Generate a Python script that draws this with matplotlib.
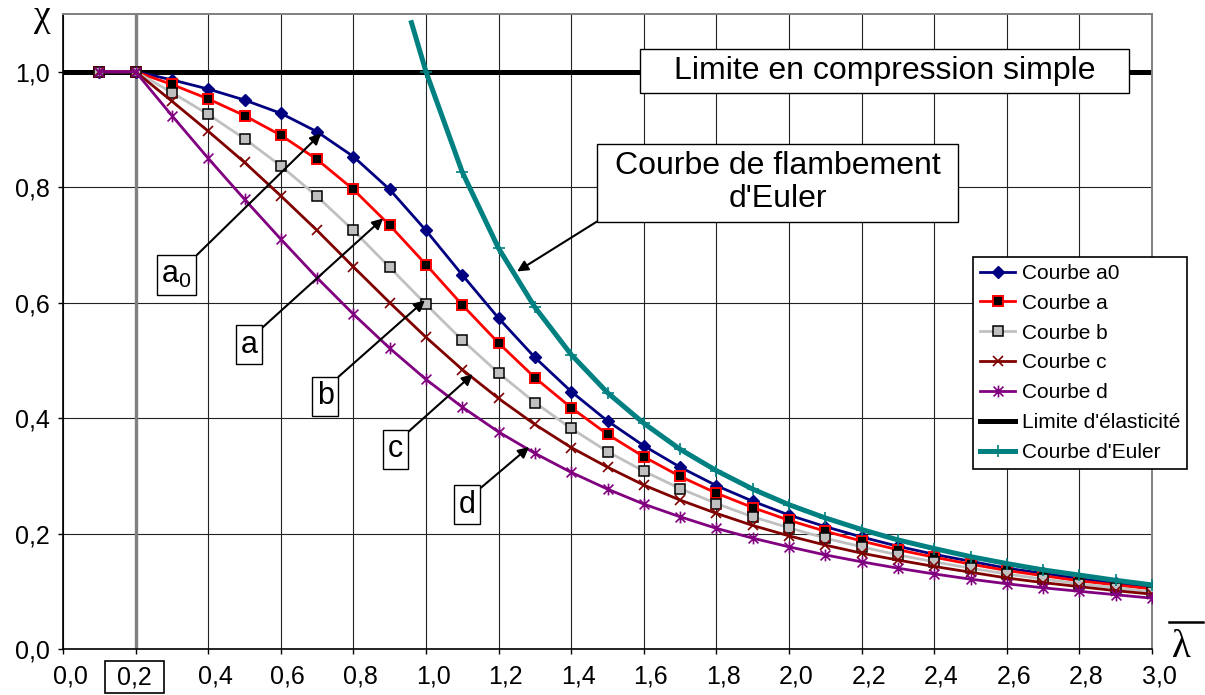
import matplotlib

matplotlib.use("Agg")

import matplotlib.pyplot as plt
from matplotlib.path import Path
from matplotlib.patches import Rectangle
from matplotlib.lines import Line2D
from matplotlib.transforms import ScaledTranslation

plt.rcParams["font.family"] = ["Liberation Sans", "DejaVu Sans"]
plt.rcParams["mathtext.default"] = "regular"

# reduced slenderness and reduction factors for the five buckling curves
lam = [0.1, 0.2, 0.3, 0.4, 0.5, 0.6, 0.7, 0.8, 0.9, 1.0,
       1.1, 1.2, 1.3, 1.4, 1.5, 1.6, 1.7, 1.8, 1.9, 2.0,
       2.1, 2.2, 2.3, 2.4, 2.5, 2.6, 2.7, 2.8, 2.9, 3.0]
chi_a0 = [1.0, 1.0, 0.986, 0.970, 0.951, 0.928, 0.896, 0.853, 0.796, 0.725,
          0.648, 0.573, 0.505, 0.446, 0.395, 0.352, 0.315, 0.283, 0.256, 0.232,
          0.212, 0.194, 0.178, 0.164, 0.152, 0.140, 0.131, 0.122, 0.114, 0.106]
chi_a = [1.0, 1.0, 0.978, 0.953, 0.924, 0.890, 0.848, 0.796, 0.734, 0.666,
         0.596, 0.530, 0.470, 0.418, 0.372, 0.333, 0.299, 0.270, 0.245, 0.223,
         0.204, 0.187, 0.172, 0.159, 0.147, 0.136, 0.127, 0.118, 0.111, 0.104]
chi_b = [1.0, 1.0, 0.964, 0.926, 0.884, 0.837, 0.784, 0.725, 0.661, 0.597,
         0.535, 0.478, 0.427, 0.382, 0.342, 0.308, 0.278, 0.252, 0.229, 0.210,
         0.192, 0.177, 0.163, 0.151, 0.140, 0.130, 0.121, 0.113, 0.106, 0.099]
chi_c = [1.0, 1.0, 0.949, 0.897, 0.843, 0.785, 0.725, 0.662, 0.600, 0.540,
         0.484, 0.434, 0.389, 0.349, 0.315, 0.284, 0.258, 0.235, 0.214, 0.196,
         0.180, 0.166, 0.154, 0.143, 0.133, 0.123, 0.115, 0.108, 0.101, 0.095]
chi_d = [1.0, 1.0, 0.924, 0.850, 0.779, 0.710, 0.643, 0.580, 0.521, 0.467,
         0.419, 0.376, 0.339, 0.306, 0.277, 0.251, 0.229, 0.209, 0.192, 0.177,
         0.163, 0.151, 0.140, 0.130, 0.121, 0.113, 0.106, 0.100, 0.094, 0.088]

# elastic (Euler) critical curve
lam_euler = [0.96, 1.0, 1.1, 1.2, 1.3, 1.4, 1.5, 1.6, 1.7, 1.8, 1.9,
             2.0, 2.1, 2.2, 2.3, 2.4, 2.5, 2.6, 2.7, 2.8, 2.9, 3.0]
chi_euler = [1.085, 1.0, 0.826, 0.694, 0.592, 0.510, 0.444, 0.391, 0.346,
             0.309, 0.277, 0.250, 0.227, 0.207, 0.189, 0.174, 0.160, 0.148,
             0.137, 0.128, 0.119, 0.111]

# squash load limit
lam_limit = [0.0, 3.0]
chi_limit = [1.0, 1.0]

lam_plateau = 0.2

x_ticks = [0.0, 0.2, 0.4, 0.6, 0.8, 1.0, 1.2, 1.4, 1.6, 1.8,
           2.0, 2.2, 2.4, 2.6, 2.8, 3.0]
y_ticks = [0.0, 0.2, 0.4, 0.6, 0.8, 1.0]

W, H = 1205, 695


def fx(px):
    return px / W


def fy(py):
    return 1 - py / H


# Excel-style star: an x with a vertical bar
star = Path([(-1, -1), (1, 1), (-1, 1), (1, -1), (0, -1.2), (0, 1.2)],
            [Path.MOVETO, Path.LINETO, Path.MOVETO, Path.LINETO,
             Path.MOVETO, Path.LINETO])

fig = plt.figure(figsize=(W / 100, H / 100), dpi=100)
ax = fig.add_axes([fx(63), fy(649), fx(1152) - fx(63), (649 - 14) / H])

ax.axvline(lam_plateau, color="#808080", lw=2.4, zorder=1.5)
ax.plot(lam_limit, chi_limit, color="black", lw=3.6, zorder=2,
        label="Limite d'élasticité")

ax.plot(lam, chi_a0, color="#000080", lw=2, marker="D", ms=6.5,
        mfc="#000080", mec="#000080", zorder=3, label="Courbe a0")
ax.plot(lam, chi_a, color="#FF0000", lw=2, marker="s", ms=7.2,
        mfc="black", mec="#FF0000", mew=1.4, zorder=3, label="Courbe a")
ax.plot(lam, chi_b, color="#C0C0C0", lw=2, marker="s", ms=7.2,
        mfc="#C0C0C0", mec="black", mew=1.1, zorder=3, label="Courbe b")
ax.plot(lam, chi_c, color="#800000", lw=2, marker="x", ms=7.5,
        mec="#800000", mew=1.2, zorder=3, label="Courbe c")
ax.plot(lam, chi_d, color="#800080", lw=2, marker=star, ms=8.5,
        mfc="none", mec="#800080", mew=1.2, zorder=3, label="Courbe d")
ax.plot(lam_euler, chi_euler, color="#008080", lw=3.6, marker="+", ms=9,
        mew=1.2, markevery=slice(1, None), zorder=4, label="Courbe d'Euler")

ax.set_xlim(0, 3.0)
ax.set_ylim(0, 1.1)
ax.set_xticks(x_ticks)
ax.set_yticks(y_ticks)
xlabels = [f"{v:.1f}".replace(".", ",") for v in x_ticks]
xlabels[1] = ""
ax.set_xticklabels(xlabels)
ax.set_yticklabels([f"{v:.1f}".replace(".", ",") for v in y_ticks])
ax.tick_params(axis="both", labelsize=18, length=3.5, width=1, direction="out")
ax.tick_params(axis="y", pad=6)
ax.tick_params(axis="x", pad=8)
shift = ScaledTranslation(0.07, 0, fig.dpi_scale_trans)
for lbl in ax.get_xticklabels():
    lbl.set_transform(lbl.get_transform() + shift)

ax.grid(True, color="#222222", lw=0.8)
ax.set_axisbelow(True)
for side in ("left", "bottom"):
    ax.spines[side].set_color("black")
    ax.spines[side].set_linewidth(1.2)
for side in ("top", "right"):
    ax.spines[side].set_color("#808080")
    ax.spines[side].set_linewidth(1.4)

# boxed 0,2 tick label
fig.patches.append(Rectangle((fx(105), fy(693)), (164 - 105) / W, (693 - 661) / H,
                             transform=fig.transFigure, fc="white", ec="black", lw=1.2))
fig.text(fx(134.5), fy(677), "0,2", fontsize=18, ha="center", va="center")

# axis symbols
fig.text(fx(41), fy(26), "χ", fontsize=27, family=["Liberation Serif", "DejaVu Serif"],
         ha="center", va="baseline")
fig.text(fx(1181), fy(657), "λ", fontsize=28, family=["Liberation Serif", "DejaVu Serif"],
         ha="center", va="baseline")
fig.lines.append(Line2D([fx(1169), fx(1203)], [fy(622), fy(622)],
                        transform=fig.transFigure, color="black", lw=1.8))

# curve labels with arrows
arrow = dict(arrowstyle="-|>", color="black", lw=1.5, mutation_scale=16,
             shrinkA=0, shrinkB=0)
box = dict(boxstyle="square,pad=0.15", fc="white", ec="black", lw=1)
labels = [
    ("$a_0$", (0.711, 0.893), (0.313, 0.648), (1.0, 1.0)),
    ("a", (0.882, 0.746), (0.512, 0.527), (1.0, 0.92)),
    ("b", (0.997, 0.604), (0.722, 0.438), (1.0, 1.0)),
    ("c", (1.129, 0.476), (0.916, 0.346), (1.0, 0.93)),
    ("d", (1.284, 0.350), (1.114, 0.250), (1.0, 0.92)),
]
for text, tip, centre, rel in labels:
    ax.annotate(text, xy=tip, xytext=centre, textcoords="data", fontsize=22,
                ha="center", va="center", bbox=box, zorder=6,
                arrowprops=dict(arrow, relpos=rel))

# compression limit label
ax.add_patch(Rectangle((1.5895, 0.9637), 1.347, 0.0761, fc="white",
                       ec="black", lw=1, zorder=5))
ax.text(2.263, 1.0017, "Limite en compression simple", fontsize=23,
        ha="center", va="center", zorder=6)

# Euler curve label
ax.add_patch(Rectangle((1.471, 0.7405), 0.9946, 0.1349, fc="white",
                       ec="black", lw=1, zorder=5))
ax.text(1.968, 0.808, "Courbe de flambement\nd'Euler", fontsize=23,
        ha="center", va="center", linespacing=1.1, zorder=6)
ax.annotate("", xy=(1.251, 0.654), xytext=(1.471, 0.7405), textcoords="data",
            arrowprops=arrow, zorder=6)

leg = ax.legend(loc="upper left", bbox_to_anchor=(fx(973), fy(257)),
                bbox_transform=fig.transFigure, fontsize=15, frameon=True,
                fancybox=False, framealpha=1, edgecolor="black", borderpad=0.33,
                labelspacing=0.52, handlelength=1.7, handletextpad=0.3,
                borderaxespad=0,
                handles=[ax.lines[i] for i in (2, 3, 4, 5, 6, 1, 7)])
leg.get_frame().set_linewidth(1.2)
leg.set_zorder(7)

fig.savefig("out.png", dpi=100)
